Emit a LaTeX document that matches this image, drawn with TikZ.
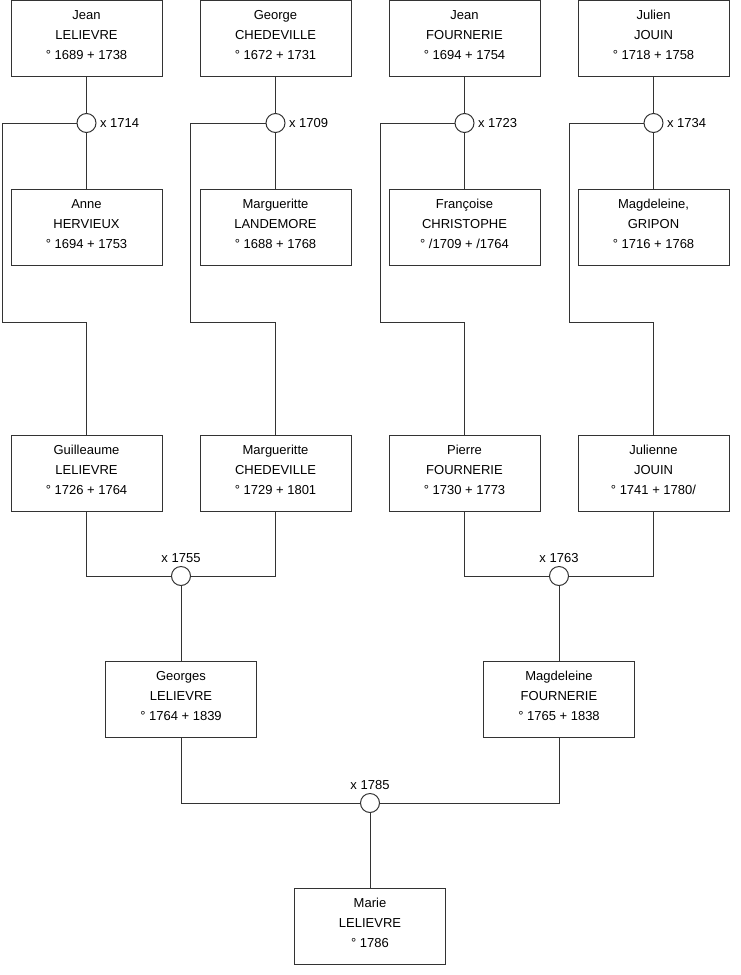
\documentclass[tikz,border=0pt]{standalone}
\usepackage{fontspec}
\setmainfont{Liberation Sans}
\usetikzlibrary{positioning}

\begin{document}
\begin{tikzpicture}[
        x=1pt, y=-1pt,
        font=\fontsize{13}{20}\selectfont,
        box/.style={draw=black!80, line width=1pt, align=center, minimum width=151pt, minimum height=76pt, inner sep=0pt, text depth=6pt},
        wed/.style={draw=black!80, fill=white, line width=1pt, circle, minimum size=19pt, inner sep=0pt},
        lnk/.style={draw=black!80, line width=1pt}
    ]
        \useasboundingbox (0,0) rectangle (740,975);
        % grandparents
        \node[box] (jl) at (86.5,38) {Jean\\LELIEVRE\\° 1689 + 1738};
        \node[box] (gc) at (275.5,38) {George\\CHEDEVILLE\\° 1672 + 1731};
        \node[box] (jf) at (464.5,38) {Jean\\FOURNERIE\\° 1694 + 1754};
        \node[box] (jj) at (653.5,38) {Julien\\JOUIN\\° 1718 + 1758};
        \node[wed, label=right:x 1714] (m1714) at (86.5,123) {};
        \node[wed, label=right:x 1709] (m1709) at (275.5,123) {};
        \node[wed, label=right:x 1723] (m1723) at (464.5,123) {};
        \node[wed, label=right:x 1734] (m1734) at (653.5,123) {};
        \node[box] (ah) at (86.5,227) {Anne\\HERVIEUX\\° 1694 + 1753};
        \node[box] (ml) at (275.5,227) {Margueritte\\LANDEMORE\\° 1688 + 1768};
        \node[box] (fc) at (464.5,227) {Françoise\\CHRISTOPHE\\° /1709 + /1764};
        \node[box] (mg) at (653.5,227) {Magdeleine,\\GRIPON\\° 1716 + 1768};
        % parents
        \node[box] (gl) at (86.5,473) {Guilleaume\\LELIEVRE\\° 1726 + 1764};
        \node[box] (mc) at (275.5,473) {Margueritte\\CHEDEVILLE\\° 1729 + 1801};
        \node[box] (pf) at (464.5,473) {Pierre\\FOURNERIE\\° 1730 + 1773};
        \node[box] (ju) at (653.5,473) {Julienne\\JOUIN\\° 1741 + 1780/};
        \node[wed, label=above:x 1755] (m1755) at (181,576) {};
        \node[wed, label=above:x 1763] (m1763) at (559,576) {};
        \node[box] (gs) at (181,699) {Georges\\LELIEVRE\\° 1764 + 1839};
        \node[box] (mf) at (559,699) {Magdeleine\\FOURNERIE\\° 1765 + 1838};
        \node[wed, label=above:x 1785] (m1785) at (370,803) {};
        \node[box] (ma) at (370,926) {Marie\\LELIEVRE\\° 1786};
        % bends down to the children
        \coordinate (k1) at (2,322);
        \coordinate (k2) at (190,322);
        \coordinate (k3) at (380,322);
        \coordinate (k4) at (569,322);
        \draw[lnk] (jl) -- (m1714) -- (ah);
        \draw[lnk] (gc) -- (m1709) -- (ml);
        \draw[lnk] (jf) -- (m1723) -- (fc);
        \draw[lnk] (jj) -- (m1734) -- (mg);
        \draw[lnk] (m1714.west) -| (k1) -| (gl.north);
        \draw[lnk] (m1709.west) -| (k2) -| (mc.north);
        \draw[lnk] (m1723.west) -| (k3) -| (pf.north);
        \draw[lnk] (m1734.west) -| (k4) -| (ju.north);
        \draw[lnk] (gl.south) |- (m1755.west);
        \draw[lnk] (mc.south) |- (m1755.east);
        \draw[lnk] (pf.south) |- (m1763.west);
        \draw[lnk] (ju.south) |- (m1763.east);
        \draw[lnk] (m1755) -- (gs);
        \draw[lnk] (m1763) -- (mf);
        \draw[lnk] (gs.south) |- (m1785.west);
        \draw[lnk] (mf.south) |- (m1785.east);
        \draw[lnk] (m1785) -- (ma);
    \end{tikzpicture}
\end{document}
